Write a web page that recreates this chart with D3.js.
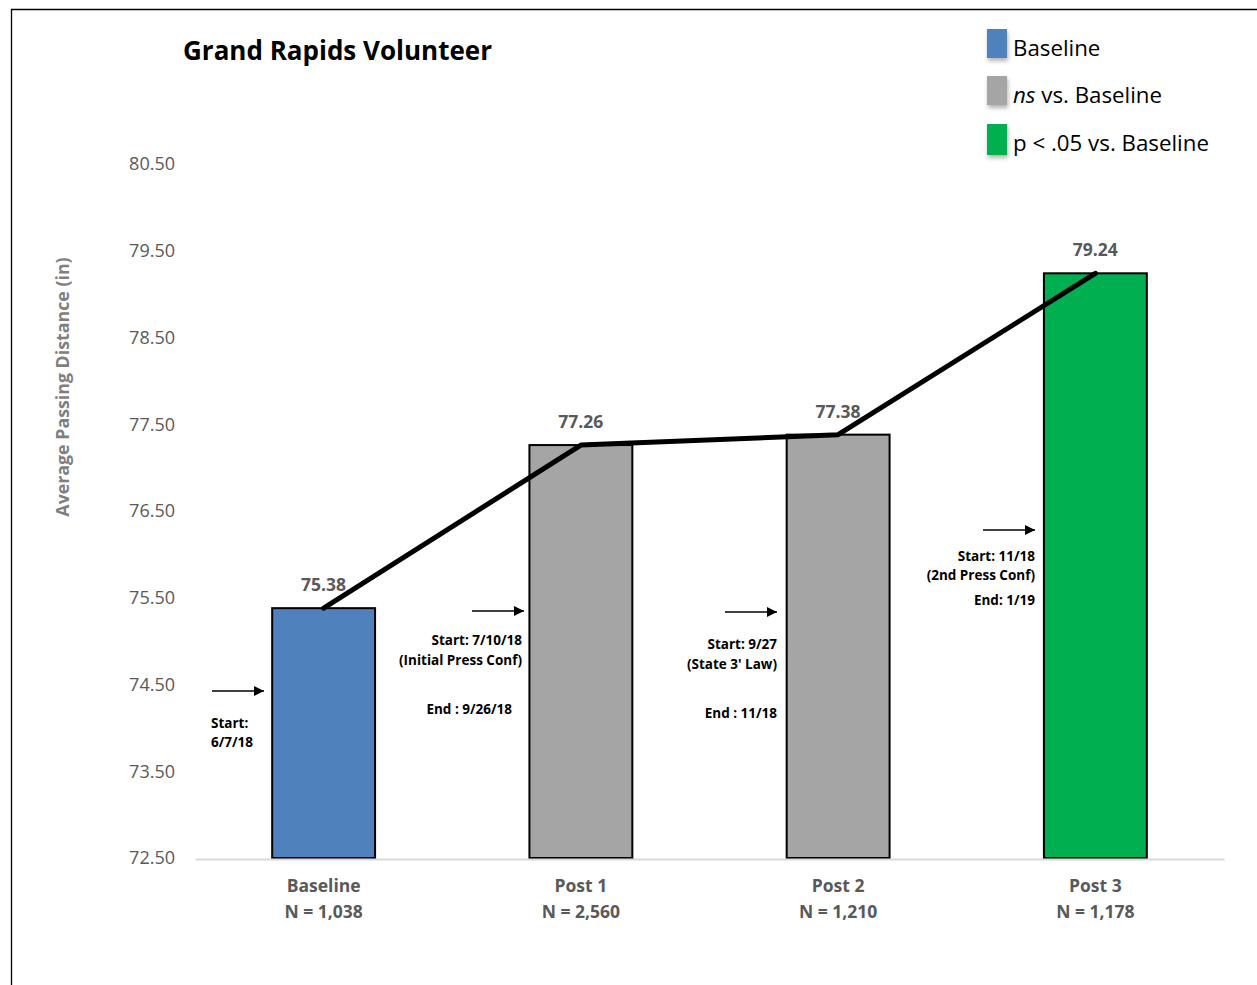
<!DOCTYPE html>
<html>
<head>
<meta charset="utf-8">
<script src="https://cdn.jsdelivr.net/npm/d3@7"></script>
<style>
  html, body { margin: 0; padding: 0; background: #fff; }
  svg { display: block; }
  text { font-family: "Open Sans", "Liberation Sans", sans-serif; }
</style>
</head>
<body>
<svg id="chart" width="1257" height="985"></svg>
<script>
const categories = ["Baseline", "Post 1", "Post 2", "Post 3"];
const sampleLabels = ["N = 1,038", "N = 2,560", "N = 1,210", "N = 1,178"];
const values = [75.38, 77.26, 77.38, 79.24];
const valueLabels = ["75.38", "77.26", "77.38", "79.24"];
const groups = ["Baseline", "ns", "ns", "sig"];
const groupOrder = ["Baseline", "ns", "sig"];
const groupColors = ["#4f81bd", "#a5a5a5", "#00b050"];
const legendLabels = [["", "Baseline"], ["ns", " vs. Baseline"], ["", "p < .05 vs. Baseline"]];
const yTicks = [72.5, 73.5, 74.5, 75.5, 76.5, 77.5, 78.5, 79.5, 80.5];
const yDomain = [72.5, 80.5];
const annotations = [
  ["Start:", "6/7/18"],
  ["Start: 7/10/18", "(Initial Press Conf)", "End : 9/26/18"],
  ["Start: 9/27", "(State 3' Law)", "End : 11/18"],
  ["Start: 11/18", "(2nd Press Conf)", "End: 1/19"]
];

const svg = d3.select("#chart");
const color = d3.scaleOrdinal().domain(groupOrder).range(groupColors);

const x = d3.scaleBand().domain(categories).range([195, 1224]).paddingInner(0.6).paddingOuter(0.3);
const y = d3.scaleLinear().domain(yDomain).range([858, 164]);

// defs
const defs = svg.append("defs");
const shadow = defs.append("filter").attr("id", "shadow").attr("x", "-30%").attr("y", "-30%").attr("width", "170%").attr("height", "170%");
shadow.append("feDropShadow").attr("dx", 1).attr("dy", 3).attr("stdDeviation", 2).attr("flood-color", "#000").attr("flood-opacity", 0.3);
const marker = defs.append("marker").attr("id", "arrow").attr("viewBox", "0 0 10 10")
  .attr("refX", 10).attr("refY", 5).attr("markerWidth", 10).attr("markerHeight", 10)
  .attr("markerUnits", "userSpaceOnUse").attr("orient", "auto");
marker.append("path").attr("d", "M0,0 L10,5 L0,10 Z").attr("fill", "#000");

// frame
svg.append("line").attr("x1", 11).attr("x2", 1257).attr("y1", 9.5).attr("y2", 9.5).attr("stroke", "#000").attr("stroke-width", 1.3);
svg.append("line").attr("x1", 11.5).attr("x2", 11.5).attr("y1", 9).attr("y2", 985).attr("stroke", "#000").attr("stroke-width", 1.3);

// title
svg.append("text").attr("x", 183).attr("y", 60).attr("font-size", 26).attr("font-weight", 700).attr("fill", "#000")
  .text("Grand Rapids Volunteer");

// y axis (labels only)
const yAxis = d3.axisLeft(y).tickValues(yTicks).tickFormat(d3.format(".2f")).tickSize(0).tickPadding(0);
const yg = svg.append("g").attr("transform", "translate(175,0)").call(yAxis);
yg.select(".domain").remove();
yg.selectAll("text").attr("font-family", "'Open Sans', sans-serif").attr("font-size", 18).attr("fill", "#595959");

// y axis title
svg.append("text").attr("transform", "translate(69,387) rotate(-90)").attr("text-anchor", "middle")
  .attr("font-size", 17.8).attr("font-weight", 700).attr("fill", "#7f7f7f")
  .text("Average Passing Distance (in)");

// bars
svg.append("g").selectAll("rect").data(categories).join("rect")
  .attr("x", d => x(d)).attr("width", x.bandwidth())
  .attr("y", (d, i) => y(values[i])).attr("height", (d, i) => y(yDomain[0]) - y(values[i]))
  .attr("fill", (d, i) => color(groups[i])).attr("stroke", "#000").attr("stroke-width", 2);

// baseline axis
const xAxis = d3.axisBottom(x).tickSize(0).tickFormat("");
const xg = svg.append("g").attr("transform", `translate(0,${y(yDomain[0]) + 1})`).call(xAxis);
xg.select(".domain").attr("stroke", "#d9d9d9").attr("stroke-width", 2);

// category labels
const catG = svg.append("g");
categories.forEach((c, i) => {
  const cx = x(c) + x.bandwidth() / 2;
  catG.append("text").attr("x", cx).attr("y", 892).attr("text-anchor", "middle")
    .attr("font-size", 17.5).attr("font-weight", 700).attr("fill", "#595959").text(c);
  catG.append("text").attr("x", cx).attr("y", 918).attr("text-anchor", "middle")
    .attr("font-size", 17.5).attr("font-weight", 700).attr("fill", "#595959").text(sampleLabels[i]);
});

// trend line
const line = d3.line().x((d, i) => x(categories[i]) + x.bandwidth() / 2).y(d => y(d));
svg.append("path").datum(values).attr("d", line).attr("fill", "none").attr("stroke", "#000")
  .attr("stroke-width", 5).attr("stroke-linejoin", "round").attr("stroke-linecap", "round");

// value labels
svg.append("g").selectAll("text").data(values).join("text")
  .attr("x", (d, i) => x(categories[i]) + x.bandwidth() / 2)
  .attr("y", d => y(d) - 17)
  .attr("text-anchor", "middle").attr("font-size", 17.5).attr("font-weight", 700).attr("fill", "#595959")
  .text((d, i) => valueLabels[i]);

// annotations
const annG = svg.append("g");
const annFont = 13.5;
function arrow(x1, x2, yy) {
  annG.append("line").attr("x1", x1).attr("x2", x2).attr("y1", yy).attr("y2", yy)
    .attr("stroke", "#000").attr("stroke-width", 1.3).attr("marker-end", "url(#arrow)");
}
function label(txt, xx, yy, anchor) {
  annG.append("text").attr("x", xx).attr("y", yy).attr("text-anchor", anchor)
    .attr("font-size", annFont).attr("font-weight", 700).attr("fill", "#000").text(txt);
}
// Baseline
arrow(212, 264, 691);
label(annotations[0][0], 211, 728, "start");
label(annotations[0][1], 211, 747, "start");
// Post 1
arrow(472, 524, 611);
label(annotations[1][0], 522, 645, "end");
label(annotations[1][1], 522, 665, "end");
label(annotations[1][2], 512, 714, "end");
// Post 2
arrow(725, 777, 612);
label(annotations[2][0], 777, 649, "end");
label(annotations[2][1], 777, 669, "end");
label(annotations[2][2], 777, 718, "end");
// Post 3
arrow(983, 1035, 530);
label(annotations[3][0], 1035, 561, "end");
label(annotations[3][1], 1035, 580, "end");
label(annotations[3][2], 1035, 605, "end");

// legend
const legTops = [29, 76, 124];
const legG = svg.append("g");
groupOrder.forEach((g, i) => {
  legG.append("rect").attr("x", 987).attr("y", legTops[i]).attr("width", 20).attr("height", i === 2 ? 31 : 29)
    .attr("fill", color(g)).attr("filter", "url(#shadow)");
  const t = legG.append("text").attr("x", 1013).attr("y", legTops[i] + 27).attr("font-size", 22.3).attr("fill", "#000");
  if (legendLabels[i][0]) t.append("tspan").attr("font-style", "italic").text(legendLabels[i][0]);
  t.append("tspan").text(legendLabels[i][1]);
});
</script>
</body>
</html>
